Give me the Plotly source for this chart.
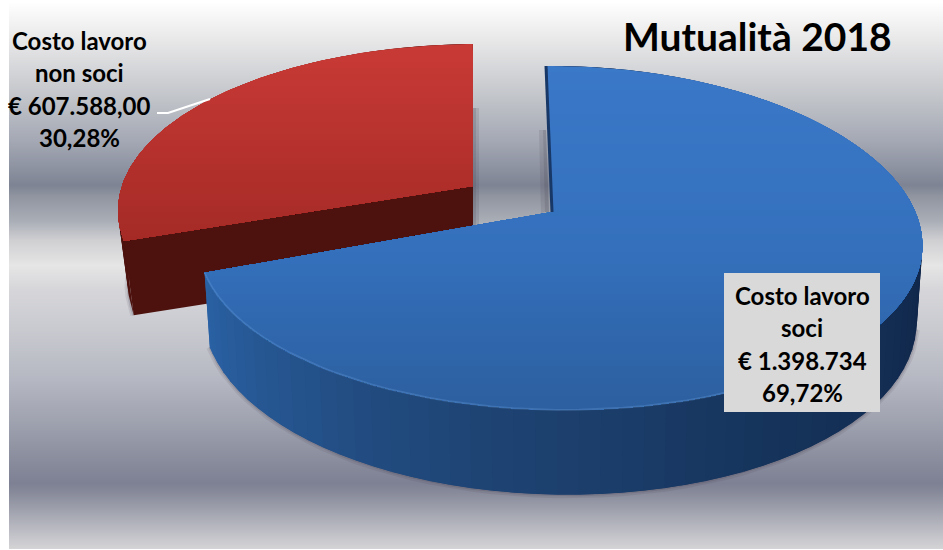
import math
import numpy as np
import plotly.graph_objects as go

# ---------- data ----------
categories = ["Costo lavoro soci", "Costo lavoro non soci"]
values = [1398734, 607588]
amount_labels = ["€ 1.398.734", "€ 607.588,00"]
percent_labels = ["69,72%", "30,28%"]
chart_title = "Mutualità 2018"

# ---------- style ----------
W, H = 943, 550
FONT = "Lato"
bg_stops = [(2, (255, 255, 255)), (10, (250, 250, 250)), (40, (232, 232, 233)), (100, (192, 195, 200)),
            (140, (165, 169, 181)), (170, (140, 145, 160)), (185, (127, 132, 148)), (195, (143, 148, 160)),
            (220, (169, 173, 182)), (240, (208, 208, 211)), (265, (230, 230, 230)), (290, (214, 214, 218)),
            (330, (201, 202, 208)), (380, (181, 184, 194)), (420, (160, 163, 176)), (460, (138, 141, 157)),
            (483, (126, 129, 148)), (490, (133, 136, 152)), (510, (160, 162, 174)), (530, (188, 189, 196)),
            (548, (212, 212, 214))]
blue_face = [(66, (58, 120, 200)), (250, (52, 112, 188)), (410, (44, 95, 159))]
red_face = [(44, (201, 58, 54)), (240, (165, 42, 38))]
blue_wall = [(0, (16, 38, 74)), (100, (16, 38, 74)), (150, (22, 52, 92)), (200, (32, 72, 122)), (251, (42, 98, 165))]
red_wall = [(0, (77, 18, 14)), (360, (77, 18, 14))]


def lerp(stops, t):
    if t <= stops[0][0]:
        return stops[0][1]
    for (a, ca), (b, cb) in zip(stops, stops[1:]):
        if t <= b:
            f = (t - a) / (b - a)
            return tuple(ca[i] + (cb[i] - ca[i]) * f for i in range(3))
    return stops[-1][1]


def rgb(c):
    return "rgb(%d,%d,%d)" % tuple(round(v) for v in c)


# perspective pie geometry
K, M = 0.151, -0.02
A, B, D = 358, 168, 72


def project(deg, apex, shear=0.0, low=False, xs=1.0, ys=1.0, sag=5.0):
    th = math.radians(deg)
    X, Y = math.sin(th), math.cos(th)
    w = 1 + K * Y + M * X
    sx = apex[0] + A * X / w * (xs if low else 1.0) + shear * Y
    sy = apex[1] - ys * B * Y / w + sag * X * X + (D / w if low else 0)
    return sx, sy


def clip_below(poly, y0):
    out = []
    n = len(poly)
    for i in range(n):
        p, q = poly[i], poly[(i + 1) % n]
        pin, qin = p[1] >= y0, q[1] >= y0
        if pin:
            out.append(p)
        if pin != qin:
            f = (y0 - p[1]) / (q[1] - p[1])
            out.append((p[0] + (q[0] - p[0]) * f, y0))
    return out


fig = go.Figure()

# background gradient
rows = np.arange(2, 549)
bg = np.array([[lerp(bg_stops, int(y))] for y in rows], dtype=np.uint8)
fig.add_trace(go.Image(z=bg, x0=9 + 934 / 2, dx=934, y0=2.5, dy=1, hoverinfo="skip"))


def poly(points, color):
    pts = list(points)
    fig.add_trace(go.Scatter(x=[p[0] for p in pts] + [pts[0][0]], y=[p[1] for p in pts] + [pts[0][1]],
                             mode="lines", fill="toself", fillcolor=color, line=dict(width=0),
                             hoverinfo="skip", showlegend=False))


def line(points, color, width):
    fig.add_trace(go.Scatter(x=[p[0] for p in points], y=[p[1] for p in points], mode="lines",
                             line=dict(color=color, width=width), hoverinfo="skip", showlegend=False))


def draw_slice(start, end, apex, shear, xs, ys, sag, face_stops, wall_stops, cut=None, rim=None):
    step = 3.0
    angs = list(np.arange(start, end, step)) + [end]

    def P(a, low=False):
        return project(a, apex, shear, low, xs, ys, sag)

    # soft shadow round the lower outline
    vis = [P(a, True) for a in angs if 100 < a < 290]
    line(vis, "rgba(60,50,70,0.10)", 7)
    line(vis, "rgba(60,50,70,0.16)", 3)
    # outer wall strips
    for a0, a1 in zip(angs, angs[1:]):
        a2 = min(a1 + step, end)
        poly([P(a0), P(a2), P(a2, True), P(a0, True)], rgb(lerp(wall_stops, (a0 + a1) / 2)))
    # visible flat cut side
    if cut is not None:
        poly([P(cut), P(cut, True), (apex[0], apex[1] + 76), apex], rgb(lerp(wall_stops, cut)))
    # top face with vertical gradient, painted top down
    face = [tuple(apex)] + [P(a) for a in np.arange(start, end + 0.5, 1.0)]
    all_y = [p[1] for p in face]
    y = min(all_y)
    while y < max(all_y):
        part = clip_below(face, y)
        if len(part) >= 3:
            poly(part, rgb(lerp(face_stops, y + 3)))
        y += 6
    if rim:
        line([P(a) for a in angs if a > 150], rim, 2)


total = sum(values)
blue_deg = 360 * values[0] / total

# red slice is pulled out to the upper left; drawn first
draw_slice(blue_deg, 360, (473, 186), 0, 0.972, 0.973, 0.0, red_face, red_wall, cut=blue_deg)
# shadow slivers next to the cut edges
poly([(473, 108), (476, 108), (476, 226), (473, 226)], "rgba(70,65,80,0.30)")
poly([(476, 108), (479, 108), (479, 226), (476, 226)], "rgba(70,65,80,0.14)")
poly([(539, 130), (543, 130), (545, 212), (541, 213)], "rgba(70,65,80,0.14)")
poly([(543, 130), (546, 130), (549, 212), (545, 212)], "rgba(70,65,80,0.30)")
draw_slice(0, blue_deg, (552, 212), -5, 0.985, 1.0, 5.0, blue_face, blue_wall, rim="rgba(120,170,230,0.25)")
line([(546, 66), (552, 212)], "rgb(24,56,104)", 3)

ann = []


def text(x, y, s, size):
    ann.append(dict(x=x, y=y, xref="x", yref="y", text=s, showarrow=False, xanchor="center", yanchor="middle",
                    font=dict(family=FONT, size=size, color="#000000"), align="center"))


text(757, 36, "<b>%s</b>" % chart_title, 39)
for (cx, ys, idx, head) in [(802, (295, 327, 360, 392), 0, ["Costo lavoro", "soci"]),
                            (79, (40, 72, 105, 137), 1, ["Costo lavoro", "non soci"])]:
    lines = head + [amount_labels[idx], percent_labels[idx]]
    for y, s in zip(ys, lines):
        text(cx, y, "<b>%s</b>" % s, 24)

fig.update_layout(
    width=W, height=H, margin=dict(l=0, r=0, t=0, b=0), paper_bgcolor="white", plot_bgcolor="white",
    showlegend=False,
    xaxis=dict(range=[0, W], visible=False, fixedrange=True),
    yaxis=dict(range=[H, 0], visible=False, fixedrange=True),
    annotations=ann,
    shapes=[
        dict(type="rect", xref="x", yref="y", x0=724, x1=880, y0=273, y1=412, fillcolor="#d9d9d9", line=dict(width=0), layer="above"),
        dict(type="path", xref="x", yref="y", path="M157,113 L168,113 L210,99", line=dict(color="white", width=2), layer="above"),
    ],
)
fig.write_html("out.html", config=dict(displayModeBar=False),
               post_script="document.body.style.margin='0';document.body.style.overflow='hidden';")
